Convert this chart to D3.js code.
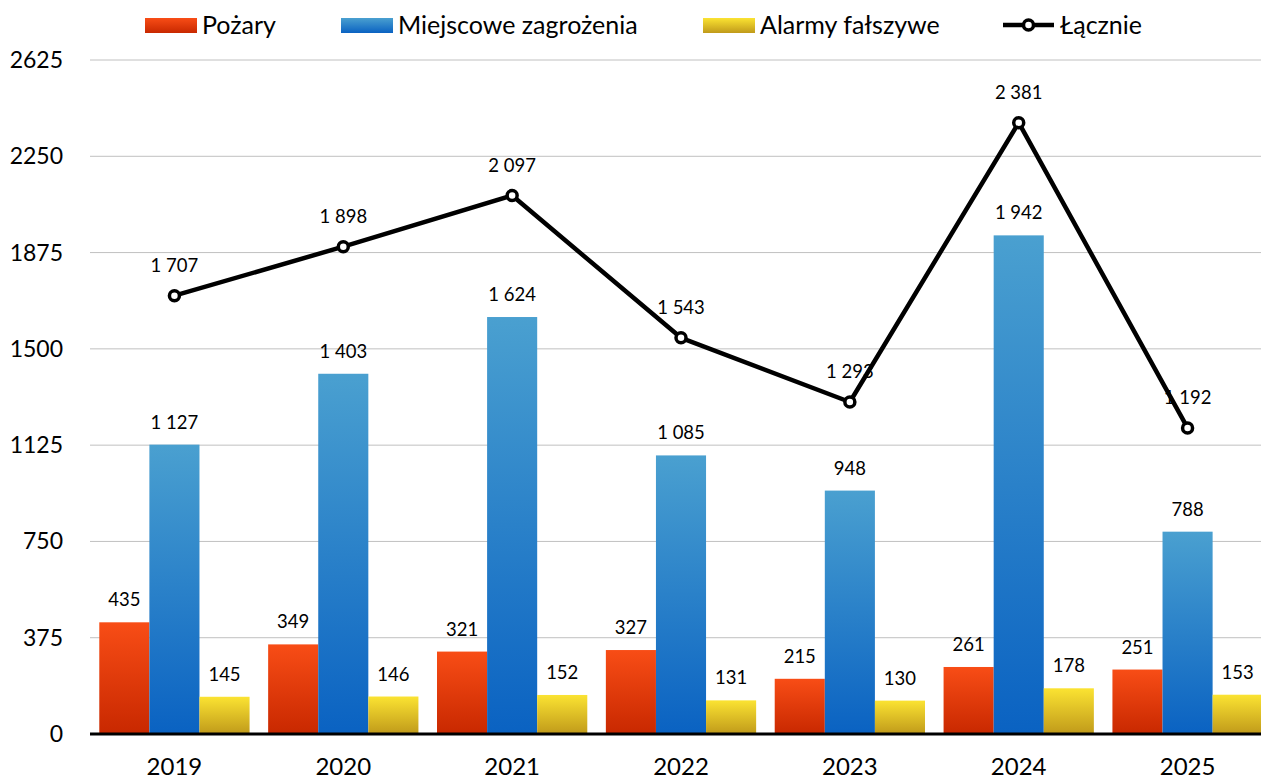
<!DOCTYPE html>
<html lang="pl">
<head>
<meta charset="UTF-8">
<title>Zdarzenia</title>
<style>
  body { margin: 0; background: #fff; }
  svg text { font-family: Lato, "Open Sans", sans-serif; fill: #000; }
</style>
</head>
<body>
<script src="https://cdn.jsdelivr.net/npm/d3@7"></script>
<div id="chart"></div>
<script>
// data
var years = ["2019", "2020", "2021", "2022", "2023", "2024", "2025"]
var pozary = [435, 349, 321, 327, 215, 261, 251]
var miejscowe = [1127, 1403, 1624, 1085, 948, 1942, 788]
var alarmy = [145, 146, 152, 131, 130, 178, 153]
var lacznie = [1707, 1898, 2097, 1543, 1293, 2381, 1192]
var yTicks = [0, 375, 750, 1125, 1500, 1875, 2250, 2625]

var seriesNames = ["Pożary", "Miejscowe zagrożenia", "Alarmy fałszywe"]
var seriesData = [pozary, miejscowe, alarmy]
var grads = [["#f84d16", "#c82800"], ["#4aa0d0", "#0a62c2"], ["#fbe332", "#c09a1a"]]

var width = 1261, height = 780

var svg = d3.select("#chart").append("svg")
  .attr("width", width).attr("height", height)

var defs = svg.append("defs")
grads.forEach(function (g, i) {
  var lg = defs.append("linearGradient").attr("id", "g" + i)
    .attr("x1", 0).attr("y1", 0).attr("x2", 0).attr("y2", 1)
  lg.append("stop").attr("offset", "0%").attr("stop-color", g[0])
  lg.append("stop").attr("offset", "100%").attr("stop-color", g[1])
})

var x = d3.scaleBand().domain(years).range([90, 1272]).paddingInner(0.11).paddingOuter(0.055)
var y = d3.scaleLinear().domain([0, 2625]).range([734, 60])
var xs = d3.scaleBand().domain([0, 1, 2]).range([0, x.bandwidth()])

// grid
svg.append("g").selectAll("line").data(yTicks.slice(1)).enter().append("line")
  .attr("x1", 90).attr("x2", width)
  .attr("y1", function (d) { return y(d) }).attr("y2", function (d) { return y(d) })
  .attr("stroke", "#c0c0c0").attr("stroke-width", 1)

// y labels
svg.append("g").selectAll("text").data(yTicks).enter().append("text")
  .attr("x", 63).attr("y", function (d) { return y(d) - 1 })
  .attr("text-anchor", "end").attr("dominant-baseline", "central")
  .style("font-size", "23px")
  .text(function (d) { return d })

// bars
var fmt = function (v) { return d3.format(",")(v).replace(/,/g, " ") }
seriesData.forEach(function (arr, si) {
  var g = svg.append("g")
  g.selectAll("rect").data(arr).enter().append("rect")
    .attr("x", function (d, i) { return x(years[i]) + xs(si) })
    .attr("width", xs.bandwidth())
    .attr("y", function (d) { return y(d) })
    .attr("height", function (d) { return y(0) - y(d) })
    .attr("fill", "url(#g" + si + ")")
  g.selectAll("text").data(arr).enter().append("text")
    .attr("x", function (d, i) { return x(years[i]) + xs(si) + xs.bandwidth() / 2 })
    .attr("y", function (d) { return y(d) - 23 })
    .attr("text-anchor", "middle").attr("dominant-baseline", "central")
    .style("font-size", "18.5px")
    .text(fmt)
})

// axis line
svg.append("line").attr("x1", 90).attr("x2", width)
  .attr("y1", y(0)).attr("y2", y(0))
  .attr("stroke", "#000").attr("stroke-width", 3)

// x labels
svg.append("g").selectAll("text").data(years).enter().append("text")
  .attr("x", function (d) { return x(d) + x.bandwidth() / 2 })
  .attr("y", 765).attr("text-anchor", "middle").attr("dominant-baseline", "central")
  .style("font-size", "24px")
  .text(function (d) { return d })

// total line
var cx = function (d, i) { return x(years[i]) + x.bandwidth() / 2 }
svg.append("path").datum(lacznie)
  .attr("d", d3.line().x(cx).y(function (d) { return y(d) }))
  .attr("fill", "none").attr("stroke", "#000").attr("stroke-width", 4.5)
  .attr("stroke-linejoin", "round")
svg.append("g").selectAll("circle").data(lacznie).enter().append("circle")
  .attr("cx", cx).attr("cy", function (d) { return y(d) })
  .attr("r", 5).attr("fill", "#fff").attr("stroke", "#000").attr("stroke-width", 3.5)
svg.append("g").selectAll("text").data(lacznie).enter().append("text")
  .attr("x", cx).attr("y", function (d) { return y(d) - 31 })
  .attr("text-anchor", "middle").attr("dominant-baseline", "central")
  .style("font-size", "18.5px")
  .text(fmt)

// legend
var legX = [145, 341, 703]
seriesNames.forEach(function (n, i) {
  svg.append("rect").attr("x", legX[i]).attr("y", 18).attr("width", 52).attr("height", 15)
    .attr("fill", "url(#g" + i + ")")
  svg.append("text").attr("x", legX[i] + 57).attr("y", 24)
    .attr("dominant-baseline", "central").style("font-size", "25px").text(n)
})
svg.append("line").attr("x1", 1003).attr("x2", 1054).attr("y1", 25).attr("y2", 25)
  .attr("stroke", "#000").attr("stroke-width", 4.5)
svg.append("circle").attr("cx", 1028.5).attr("cy", 25).attr("r", 5)
  .attr("fill", "#fff").attr("stroke", "#000").attr("stroke-width", 3.5)
svg.append("text").attr("x", 1060).attr("y", 24)
  .attr("dominant-baseline", "central").style("font-size", "25px").text("Łącznie")
</script>
</body>
</html>
